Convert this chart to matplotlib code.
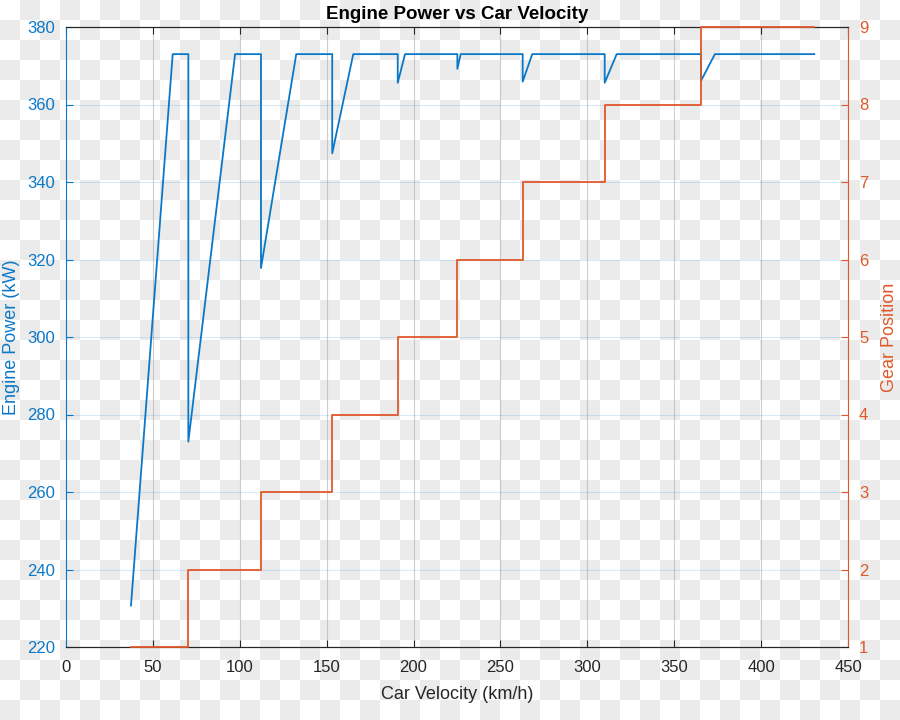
import numpy as np
import matplotlib.pyplot as plt

plt.rcParams['font.family'] = ['Liberation Sans', 'DejaVu Sans']

# engine power trace (km/h, kW)
power_vel = [37.4, 61.4, 70.4, 70.4, 97.3, 112.2, 112.2, 132.5, 153.2, 153.2,
             165.3, 190.9, 190.9, 195.1, 225.2, 225.2, 227.1, 262.8, 262.8,
             268.3, 310.0, 310.0, 316.9, 365.4, 365.4, 373.4, 430.6]
power_kw = [230.7, 373, 373, 273, 373, 373, 317.8, 373, 373, 347.4,
            373, 373, 365.6, 373, 373, 369.2, 373, 373, 365.9,
            373, 373, 365.6, 373, 373, 366.1, 373, 373]

# gear position steps
gear_vel = [37.4, 70.4, 112.2, 153.2, 190.9, 225.2, 262.8, 310.0, 365.4, 430.6]
gear_pos = [1, 2, 3, 4, 5, 6, 7, 8, 9, 9]

blue = '#0a78c8'
orange = '#e0582a'
dark = '#262626'

fig = plt.figure(figsize=(9, 7.2), dpi=100)

# transparent-background checkerboard seen in the reference
sq = 20
yy, xx = np.mgrid[0:720, 0:900]
board = ((xx // sq + yy // sq) % 2).astype(float)
img = np.where(board[..., None] > 0, 0.925, 1.0) * np.ones((1, 1, 3))
fig.figimage(img, 0, 0, origin='upper', zorder=-10)

ax = fig.add_axes([66 / 900, 1 - 647 / 720, 782 / 900, 620 / 720])
ax.patch.set_alpha(0)
ax.plot(power_vel, power_kw, color=blue, lw=1.3, zorder=3)
ax.set_xlim(0, 450)
ax.set_ylim(220, 380)
ax.set_xticks(np.arange(0, 451, 50))
ax.set_yticks(np.arange(220, 381, 20))

ax.grid(axis='x', color='#a0a0a0', alpha=0.5, lw=0.8)
ax.grid(axis='y', color=blue, alpha=0.15, lw=0.8)
ax.set_axisbelow(True)

ax2 = ax.twinx()
ax2.step(gear_vel, gear_pos, where='post', color=orange, lw=1.3, zorder=3,
         clip_on=False)
ax2.set_ylim(1, 9)
ax2.set_yticks(np.arange(1, 10))

for a in (ax, ax2):
    a.tick_params(direction='in', length=5, width=0.8, labelsize=12, pad=8)
    for s in ('top', 'bottom'):
        a.spines[s].set_color(dark)
        a.spines[s].set_linewidth(0.8)
ax.tick_params(axis='x', top=True, colors=dark, labelcolor=dark, pad=9)
ax.tick_params(axis='y', colors=blue, labelcolor=blue)
ax2.tick_params(axis='y', colors=orange, labelcolor=orange)
ax.spines['left'].set_color(blue)
ax.spines['right'].set_visible(False)
ax2.spines['left'].set_visible(False)
ax2.spines['right'].set_color(orange)
ax2.spines['left'].set_linewidth(0.8)
ax2.spines['right'].set_linewidth(0.8)

ax.set_title('Engine Power vs Car Velocity', fontsize=13.5, fontweight='bold', color='black', pad=6)
ax.set_xlabel('Car Velocity (km/h)', fontsize=13, color=dark, labelpad=8)
ax.set_ylabel('Engine Power (kW)', fontsize=13, color=blue, labelpad=5)
ax2.set_ylabel('Gear Position', fontsize=13, color=orange, labelpad=9)

fig.savefig('out.png', dpi=100)
